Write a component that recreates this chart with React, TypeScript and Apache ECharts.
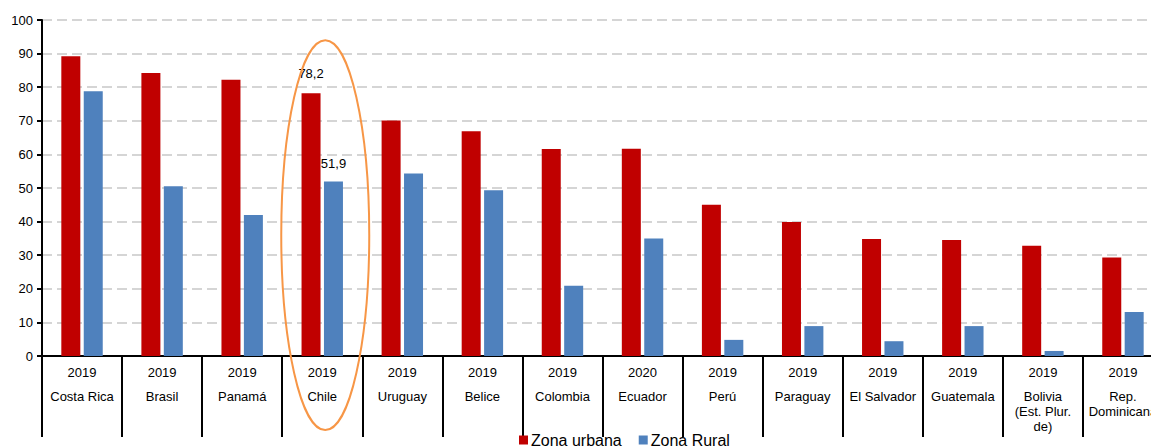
import React, { useEffect, useRef } from "react";
import * as echarts from "echarts";

const countries = ["Costa Rica", "Brasil", "Panamá", "Chile", "Uruguay", "Belice", "Colombia", "Ecuador", "Perú", "Paraguay", "El Salvador", "Guatemala", "Bolivia\n(Est. Plur.\nde)", "Rep.\nDominicana"];
const years = ["2019", "2019", "2019", "2019", "2019", "2019", "2019", "2020", "2019", "2019", "2019", "2019", "2019", "2019"];
const urbana = [89.2, 84.2, 82.2, 78.2, 70.1, 66.9, 61.6, 61.7, 45.0, 39.9, 34.8, 34.5, 32.8, 29.3];
const rural = [78.8, 50.5, 42.0, 51.9, 54.3, 49.3, 20.9, 35.0, 4.8, 8.9, 4.4, 8.9, 1.5, 13.1];
const yTicks = [0, 10, 20, 30, 40, 50, 60, 70, 80, 90, 100];
const highlightIndex = 3;

const FONT = "'Liberation Sans', Arial, sans-serif";

export default function App() {
  const ref = useRef<HTMLDivElement>(null);
  useEffect(() => {
    if (!ref.current) return;
    document.body.style.margin = "0";
    document.body.style.overflow = "hidden";
    const chart = echarts.init(ref.current, undefined, { renderer: "svg" });
    const cats = countries.map((c, i) => {
      const parts = c.split("\n").map((p) => `{c|${p}}`).join("\n");
      return `{y|${years[i]}}\n${parts}`;
    });
    const labelFor = (i: number, dist: number) =>
      i === highlightIndex
        ? { show: true, position: "top", distance: dist, formatter: (p: any) => String(p.value).replace(".", ","), color: "#000", fontSize: 13, fontFamily: FONT }
        : { show: false };
    chart.setOption({
      animation: false,
      textStyle: { fontFamily: FONT },
      grid: { left: 42, top: 20, bottom: 91, right: 0, containLabel: false },
      legend: {
        data: ["Zona urbana", "Zona Rural"],
        bottom: -6,
        left: 514,
        itemWidth: 9,
        itemHeight: 9,
        itemGap: 17,
        icon: "rect",
        textStyle: { fontSize: 16, color: "#000", fontFamily: FONT, padding: [0, 0, 0, -2] },
      },
      xAxis: {
        type: "category",
        data: cats,
        axisLine: { lineStyle: { color: "#000", width: 2 } },
        axisTick: { show: true, length: 81, interval: 0, lineStyle: { color: "#000", width: 2 } },
        axisLabel: {
          interval: 0,
          margin: 0,
          color: "#000",
          fontSize: 13,
          fontFamily: FONT,
          verticalAlign: "top",
          rich: {
            y: { fontSize: 13, lineHeight: 33, color: "#000", fontFamily: FONT },
            c: { fontSize: 13, lineHeight: 15, color: "#000", fontFamily: FONT },
          },
        },
      },
      yAxis: {
        type: "value",
        min: 0,
        max: 100,
        interval: 10,
        axisLine: { show: true, lineStyle: { color: "#000", width: 2 } },
        axisTick: { show: true, length: 5, lineStyle: { color: "#000", width: 2 } },
        axisLabel: { color: "#000", fontSize: 13, fontFamily: FONT, margin: 9 },
        splitLine: { lineStyle: { color: "#c8c8c8", width: 1.5, type: [10, 5] } },
      },
      series: [
        {
          name: "Zona urbana",
          type: "bar",
          barWidth: 19,
          barGap: "18%",
          itemStyle: { color: "#C00000" },
          data: urbana.map((v, i) => ({ value: v, label: labelFor(i, 13) })),
        },
        {
          name: "Zona Rural",
          type: "bar",
          barWidth: 19,
          itemStyle: { color: "#4F81BD" },
          data: rural.map((v, i) => ({ value: v, label: labelFor(i, 12) })),
        },
      ],
    });
    // Highlight ellipse around the Chile category
    const [cx] = chart.convertToPixel({ xAxisIndex: 0, yAxisIndex: 0 }, [highlightIndex, 0]);
    const [, yTop] = chart.convertToPixel({ xAxisIndex: 0, yAxisIndex: 0 }, [highlightIndex, 94]);
    const yBottom = 430;
    chart.setOption({
      graphic: [
        {
          type: "ellipse",
          shape: { cx: cx + 3, cy: (yTop + yBottom) / 2, rx: 44, ry: (yBottom - yTop) / 2 },
          style: { fill: "none", stroke: "#F79646", lineWidth: 2 },
          z: 100,
        },
      ],
    });
    return () => chart.dispose();
  }, []);
  return <div ref={ref} style={{ width: 1163, height: 447 }} />;
}
